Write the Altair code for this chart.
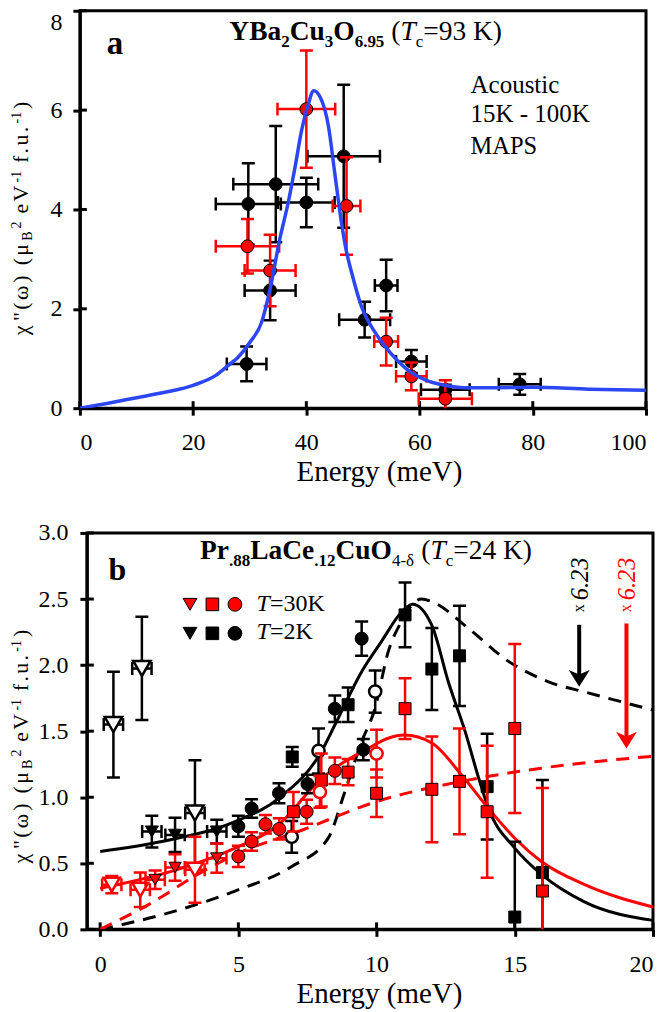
import altair as alt
import pandas as pd

FONT = "Liberation Serif"
RED = "#ff0000"
BLUE = "#2b46f2"

# ---------------- Panel a data ----------------
a_blk_E = [29.45, 29.75, 33.6, 34.6, 40.0, 46.6, 50.3, 54.1, 58.55, 64.55, 77.7]
a_blk_val = [0.89, 4.11, 2.37, 4.51, 4.14, 5.07, 1.78, 2.47, 0.94, 0.37, 0.48]
a_blk_xerr = [3.5, 5.75, 4.5, 7.5, 5.0, 6.4, 4.5, 2.0, 2.7, 4.3, 3.7]
a_blk_yerr = [0.35, 0.82, 0.6, 1.17, 0.5, 1.44, 0.36, 0.52, 0.23, 0.10, 0.21]

a_red_E = [29.6, 33.6, 40.0, 47.1, 54.1, 58.55, 64.55]
a_red_val = [3.26, 2.77, 6.02, 4.07, 1.34, 0.64, 0.19]
a_red_xerr = [5.6, 4.5, 5.1, 2.45, 2.1, 2.7, 4.7]
a_red_yerr = [0.55, 0.72, 1.18, 0.98, 0.48, 0.28, 0.37]

a_fit_E = [0, 5, 10, 15, 20, 24, 26.2, 28, 30, 32.1, 33.6, 35.3, 36.8, 38, 39.2, 40.3,
           41.3, 42.5, 43.9, 45, 46.2, 47, 48, 49.7, 52, 53.8, 56, 58.5, 61, 64.4, 68,
           72, 80, 90, 100]
a_fit_val = [0, 0.10, 0.21, 0.32, 0.46, 0.66, 0.86, 1.03, 1.32, 1.73, 2.4, 3.4, 4.14,
             4.85, 5.61, 6.1, 6.39, 6.25, 5.68, 4.75, 3.74, 3.2, 2.73, 2.06, 1.55, 1.26,
             0.97, 0.72, 0.57, 0.46, 0.41, 0.41, 0.42, 0.38, 0.36]

a_xticks = [0, 20, 40, 60, 80, 100]
a_yticks = [0, 2, 4, 6, 8]

# ---------------- Panel b data ----------------
# T = 2 K (black)
b_k_circ_E = [5.0, 5.48, 6.47, 7.5, 8.49, 9.46, 9.52]
b_k_circ_val = [0.78, 0.915, 1.03, 1.10, 1.67, 2.20, 1.36]
b_k_circ_err = [0.08, 0.07, 0.075, 0.07, 0.10, 0.13, 0.08]

b_k_ocirc_E = [6.93, 7.9, 9.95]
b_k_ocirc_val = [0.70, 1.35, 1.80]
b_k_ocirc_err = [0.12, 0.17, 0.16]

b_k_sq_E = [6.95, 8.97, 11.03, 12.0, 13.0, 14.0, 15.0, 16.0]
b_k_sq_val = [1.305, 1.70, 2.38, 1.97, 2.07, 1.08, 0.093, 0.43]
b_k_sq_err = [0.075, 0.13, 0.245, 0.31, 0.38, 0.40, 0.57, 0.70]

b_k_tri_E = [1.87, 2.71, 4.22]
b_k_tri_val = [0.74, 0.715, 0.74]
b_k_tri_err = [0.12, 0.13, 0.09]

b_k_otri_E = [0.48, 1.51, 3.43]
b_k_otri_val = [1.55, 1.975, 0.88]
b_k_otri_err = [0.40, 0.39, 0.40]

# T = 30 K (red)
b_r_sq_E = [6.99, 8.0, 8.97, 10.0, 11.03, 12.0, 13.0, 14.0, 15.0, 16.0]
b_r_sq_val = [0.89, 1.13, 1.19, 1.03, 1.67, 1.06, 1.12, 0.89, 1.52, 0.29]
b_r_sq_err = [0.15, 0.20, 0.10, 0.18, 0.23, 0.40, 0.40, 0.50, 0.64, 0.78]

b_r_circ_E = [5.0, 5.48, 5.98, 6.48, 7.47, 8.49]
b_r_circ_val = [0.552, 0.665, 0.796, 0.76, 0.89, 1.20]
b_r_circ_err = [0.08, 0.07, 0.07, 0.08, 0.09, 0.10]

b_r_ocirc_E = [7.95, 10.0]
b_r_ocirc_val = [1.04, 1.33]
b_r_ocirc_err = [0.12, 0.18]

b_r_tri_E = [1.99, 2.71, 4.22]
b_r_tri_val = [0.376, 0.468, 0.539]
b_r_tri_err = [0.07, 0.10, 0.11]

b_r_otri_E = [0.42, 1.45, 3.43]
b_r_otri_val = [0.338, 0.30, 0.451]
b_r_otri_err = [0.065, 0.13, 0.25]

tri_xerr = 0.35

# model curves
b_k_fit_E = [0, 2.23, 4.88, 6.45, 8.0, 8.5, 9.46, 10.18, 10.9, 11.3, 12.0, 12.6, 13.2,
             13.7, 14.04, 15.0, 16.0, 17.5, 20]
b_k_fit_val = [0.59, 0.665, 0.816, 0.99, 1.345, 1.55, 1.95, 2.18, 2.40, 2.46, 2.30,
               1.87, 1.50, 1.14, 0.92, 0.615, 0.41, 0.21, 0.068]
b_r_fit_E = [0, 2.96, 4.88, 6.45, 8.0, 8.49, 9.7, 10.42, 11.0, 12.0, 13.07, 14.04, 15.0,
             15.96, 17.53, 20]
b_r_fit_val = [0.31, 0.463, 0.615, 0.79, 1.14, 1.22, 1.37, 1.446, 1.47, 1.41, 1.17,
               0.917, 0.69, 0.514, 0.338, 0.169]
b_k_dash_E = [0, 2.23, 4.88, 6.93, 8.25, 8.85, 9.46, 9.94, 10.42, 10.9, 11.26, 11.62,
              12.0, 13.31, 14.76, 16.2, 17.65, 20]
b_k_dash_val = [0, 0.11, 0.29, 0.476, 0.69, 1.04, 1.42, 1.67, 2.10, 2.33, 2.45, 2.50,
                2.48, 2.28, 2.03, 1.875, 1.79, 1.66]
b_r_dash_E = [0, 1.75, 3.56, 4.88, 7.29, 10.0, 13.07, 15.96, 20]
b_r_dash_val = [0, 0.187, 0.42, 0.565, 0.75, 0.967, 1.12, 1.22, 1.31]

# arrows (x 6.23): E, start, shaft end, tip
arr_E = [17.33, 19.04]
arr_top = [2.305, 2.315]
arr_shaft = [1.90, 1.45]
arr_tip = [1.837, 1.368]
arr_txt_E = [17.66, 19.36]
arr_txt_val = [2.40, 2.40]

b_xticks = [0, 5, 10, 15, 20]
b_yticks = [0, 0.5, 1.0, 1.5, 2.0, 2.5, 3.0]

# ---------------- helpers ----------------
ONE = pd.DataFrame({"k": [0]})

REG = {' ': 250, '"': 408, '(': 333, ')': 333, '-': 333, '.': 250, '=': 564,
       'A': 722, 'B': 667, 'C': 667, 'E': 611, 'K': 722, 'M': 889, 'P': 556,
       'S': 556, 'T': 611, 'V': 722, 'a': 444, 'c': 444, 'e': 444, 'f': 333,
       'i': 278, 'o': 500, 's': 389, 't': 278, 'u': 500, 'x': 500,
       'χ': 549, 'ω': 686, 'μ': 576, 'δ': 494}
BOLD = {' ': 250, '.': 250, '(': 333, ')': 333, '-': 333, 'B': 667, 'C': 722,
        'L': 667, 'O': 778, 'P': 611, 'Y': 722, 'a': 500, 'b': 556, 'e': 444,
        'r': 444, 'u': 556}
ITAL = {'T': 556, 'x': 444, '.': 250, ' ': 250}


def tw(s, size, weight, style):
    table = BOLD if weight == "bold" else (ITAL if style == "italic" else REG)
    return sum(table.get(ch, REG.get(ch, 500)) for ch in s) * size / 1000.0


def rich(runs, enc, angle=0, color="black", data=ONE):
    """runs: (text, size, weight, style, baseline shift, gap before, letter spacing)"""
    out = []
    adv = 0.0
    for run in runs:
        text, size = run[0], run[1]
        weight = run[2] if len(run) > 2 else "normal"
        style = run[3] if len(run) > 3 else "normal"
        shift = run[4] if len(run) > 4 else 0
        gap = run[5] if len(run) > 5 else 0
        sp = run[6] if len(run) > 6 else 0
        adv += gap
        pieces = list(text) if sp else [text]
        for piece in pieces:
            if piece.strip():
                out.append(
                    alt.Chart(data).mark_text(
                        text=piece, font=FONT, fontSize=size, fontWeight=weight,
                        fontStyle=style, align="left", baseline="alphabetic",
                        dx=adv, dy=shift, angle=angle, color=color
                    ).encode(**enc)
                )
            adv += tw(piece, size, weight, style) + sp
    return out


def errpoint(df, color, xs, ys, xa, ya, shape, size, fill, stroke, sw,
             cap=13, lw=2.5, xerr=True):
    base = alt.Chart(df).transform_calculate(
        ylo="datum.val - datum.yerr", yhi="datum.val + datum.yerr",
        xlo="datum.E - datum.xerr", xhi="datum.E + datum.xerr")
    X = alt.X("E:Q", scale=xs, axis=xa)
    Y = alt.Y("val:Q", scale=ys, axis=ya)
    Ylo = alt.Y("ylo:Q", scale=ys, axis=ya)
    Yhi = alt.Y("yhi:Q", scale=ys, axis=ya)
    layers = [
        base.mark_rule(color=color, strokeWidth=lw, clip=True).encode(
            x=X, y=Ylo, y2="yhi:Q"),
        base.mark_rule(color=color, strokeWidth=lw, clip=True,
                       xOffset=-cap / 2, x2Offset=cap / 2).encode(
            x=X, x2="E:Q", y=Ylo),
        base.mark_rule(color=color, strokeWidth=lw, clip=True,
                       xOffset=-cap / 2, x2Offset=cap / 2).encode(
            x=X, x2="E:Q", y=Yhi),
    ]
    if xerr:
        Xlo = alt.X("xlo:Q", scale=xs, axis=xa)
        Xhi = alt.X("xhi:Q", scale=xs, axis=xa)
        layers += [
            base.mark_rule(color=color, strokeWidth=lw, clip=True).encode(
                x=Xlo, x2="xhi:Q", y=Y),
            base.mark_rule(color=color, strokeWidth=lw, clip=True,
                           yOffset=-cap / 2, y2Offset=cap / 2).encode(
                x=Xlo, y=Y, y2="val:Q"),
            base.mark_rule(color=color, strokeWidth=lw, clip=True,
                           yOffset=-cap / 2, y2Offset=cap / 2).encode(
                x=Xhi, y=Y, y2="val:Q"),
        ]
    layers.append(
        base.mark_point(shape=shape, size=size, filled=True, fill=fill,
                        fillOpacity=1, opacity=1, stroke=stroke,
                        strokeWidth=sw).encode(x=X, y=Y))
    return layers


def line(E, v, xs, ys, xa, ya, color, width, dash=None):
    df = pd.DataFrame({"E": E, "val": v})
    kw = dict(color=color, strokeWidth=width, interpolate="monotone", clip=True)
    if dash:
        kw["strokeDash"] = dash
    return alt.Chart(df).mark_line(**kw).encode(
        x=alt.X("E:Q", scale=xs, axis=xa), y=alt.Y("val:Q", scale=ys, axis=ya))


def inner_ticks(xt, yt, xs, ys, xa, ya, h):
    return [
        alt.Chart(pd.DataFrame({"t": xt})).mark_rule(color="black", strokeWidth=3).encode(
            x=alt.X("t:Q", scale=xs, axis=xa), y=alt.value(h), y2=alt.value(h - 7)),
        alt.Chart(pd.DataFrame({"t": yt})).mark_rule(color="black", strokeWidth=3).encode(
            y=alt.Y("t:Q", scale=ys, axis=ya), x=alt.value(0), x2=alt.value(7)),
    ]


def bounds_marker(x, y):
    # invisible anchor that fixes the chart's top-left extent
    return alt.Chart(ONE).mark_rule(opacity=0, strokeOpacity=0).encode(
        x=alt.value(x), x2=alt.value(x + 1), y=alt.value(y), y2=alt.value(y + 1))


YS, YSS, SP = 22, 14, 2.3
YTITLE = [('χ"(ω)', YS, "normal", "normal", 0, 0, SP),
          ('(μ', YS, "normal", "normal", 0, 5.5 + SP, SP),
          ('B', YSS, "normal", "normal", 4, 0),
          ('2', YSS, "normal", "normal", -7, 3),
          ('eV', YS, "normal", "normal", 0, 5.5 + SP, SP),
          ('-1', YSS, "normal", "normal", -7, 1),
          ('f.u.', YS, "normal", "normal", 0, 5.5 + SP, SP),
          ('-1', YSS, "normal", "normal", -7, 1),
          (')', YS, "normal", "normal", 0, 3)]

# ---------------- Panel a ----------------
WA, HA = 567, 398
xs_a = alt.Scale(domain=[0, 100], nice=False, zero=False)
ys_a = alt.Scale(domain=[0, 8], nice=False, zero=False)
xa_a = alt.Axis(values=a_xticks, format="d", title="Energy (meV)", titleX=299.5,
                titleY=72, titleBaseline="alphabetic", titleAlign="center",
                labelPadding=15)
ya_a = alt.Axis(values=a_yticks, format="d", title=None, labelPadding=11,
                labelBaseline={"condition": {"test": "datum.value == 8", "value": "top"},
                               "value": "middle"})

a_blk = pd.DataFrame({"E": a_blk_E, "val": a_blk_val, "xerr": a_blk_xerr, "yerr": a_blk_yerr})
a_red = pd.DataFrame({"E": a_red_E, "val": a_red_val, "xerr": a_red_xerr, "yerr": a_red_yerr})

a_layers = [bounds_marker(-110, -30)]
a_layers += inner_ticks(a_xticks, a_yticks, xs_a, ys_a, xa_a, ya_a, HA)
a_layers += errpoint(a_blk, "black", xs_a, ys_a, xa_a, ya_a, "circle", 165,
                     "black", "black", 1)
a_layers += errpoint(a_red, RED, xs_a, ys_a, xa_a, ya_a, "circle", 165,
                     RED, "black", 1)
a_layers.append(line(a_fit_E, a_fit_val, xs_a, ys_a, xa_a, ya_a, BLUE, 3.5))
a_layers += rich([("a", 33, "bold")], dict(x=alt.value(27), y=alt.value(43.7)))
a_layers += rich([("YBa", 27.5, "bold"), ("2", 17, "bold", "normal", 7), ("Cu", 27.5, "bold"),
                  ("3", 17, "bold", "normal", 7), ("O", 27.5, "bold"),
                  ("6.95", 17, "bold", "normal", 7), ("(", 27.5, "normal", "normal", 0, 6.9),
                  ("T", 27.5, "normal", "italic"),
                  ("c", 17, "normal", "normal", 7), ("=93 K)", 27.5)],
                 dict(x=alt.value(149.7), y=alt.value(29.3)))
a_layers += rich([("Acoustic", 25)], dict(x=alt.value(391.3), y=alt.value(82.7)))
a_layers += rich([("15K - 100K", 25)], dict(x=alt.value(391.3), y=alt.value(111)))
a_layers += rich([("MAPS", 24.5)], dict(x=alt.value(391.3), y=alt.value(143.7)))
a_layers += rich(YTITLE, dict(x=alt.value(-52), y=alt.value(325)), angle=270)

panel_a = alt.layer(*a_layers).properties(width=WA, height=HA)

# ---------------- Panel b ----------------
WB, HB = 567, 397
xs_b = alt.Scale(domain=[-0.48, 20], nice=False, zero=False)
ys_b = alt.Scale(domain=[0, 3], nice=False, zero=False)
xa_b = alt.Axis(values=b_xticks, format="d", title="Energy (meV)", titleX=292.5,
                titleY=73, titleBaseline="alphabetic", titleAlign="center",
                labelPadding=16)
ya_b = alt.Axis(values=b_yticks, format=".1f", title=None, labelPadding=12)


def sdf(E, v, err, xerr=0.0):
    return pd.DataFrame({"E": E, "val": v, "yerr": err, "xerr": [xerr] * len(E)})


b_layers = []
b_layers += inner_ticks(b_xticks, b_yticks, xs_b, ys_b, xa_b, ya_b, HB)
b_layers.append(line(b_k_dash_E, b_k_dash_val, xs_b, ys_b, xa_b, ya_b, "black", 3, [13, 9]))
b_layers.append(line(b_r_dash_E, b_r_dash_val, xs_b, ys_b, xa_b, ya_b, RED, 3, [13, 9]))
b_layers.append(line(b_k_fit_E, b_k_fit_val, xs_b, ys_b, xa_b, ya_b, "black", 3))
b_layers.append(line(b_r_fit_E, b_r_fit_val, xs_b, ys_b, xa_b, ya_b, RED, 3))

# black (T=2K)
b_layers += errpoint(sdf(b_k_otri_E, b_k_otri_val, b_k_otri_err, tri_xerr), "black", xs_b, ys_b,
                     xa_b, ya_b, "triangle-down", 300, "white", "black", 2.5)
b_layers += errpoint(sdf(b_k_tri_E, b_k_tri_val, b_k_tri_err, tri_xerr), "black", xs_b, ys_b,
                     xa_b, ya_b, "triangle-down", 170, "black", "black", 1)
b_layers += errpoint(sdf(b_k_sq_E, b_k_sq_val, b_k_sq_err), "black", xs_b, ys_b,
                     xa_b, ya_b, "square", 144, "black", "black", 1, xerr=False)
b_layers += errpoint(sdf(b_k_circ_E, b_k_circ_val, b_k_circ_err), "black", xs_b, ys_b,
                     xa_b, ya_b, "circle", 170, "black", "black", 1, xerr=False)
b_layers += errpoint(sdf(b_k_ocirc_E, b_k_ocirc_val, b_k_ocirc_err), "black", xs_b, ys_b,
                     xa_b, ya_b, "circle", 150, "white", "black", 2.5, xerr=False)
# red (T=30K)
b_layers += errpoint(sdf(b_r_otri_E, b_r_otri_val, b_r_otri_err, tri_xerr), RED, xs_b, ys_b,
                     xa_b, ya_b, "triangle-down", 260, "white", RED, 2.5)
b_layers += errpoint(sdf(b_r_tri_E, b_r_tri_val, b_r_tri_err, tri_xerr), RED, xs_b, ys_b,
                     xa_b, ya_b, "triangle-down", 150, RED, "black", 1)
b_layers += errpoint(sdf(b_r_sq_E, b_r_sq_val, b_r_sq_err), RED, xs_b, ys_b,
                     xa_b, ya_b, "square", 144, RED, "black", 1, xerr=False)
b_layers += errpoint(sdf(b_r_circ_E, b_r_circ_val, b_r_circ_err), RED, xs_b, ys_b,
                     xa_b, ya_b, "circle", 170, RED, "black", 1, xerr=False)
b_layers += errpoint(sdf(b_r_ocirc_E, b_r_ocirc_val, b_r_ocirc_err), RED, xs_b, ys_b,
                     xa_b, ya_b, "circle", 150, "white", RED, 2.5, xerr=False)

# arrows
arr = pd.DataFrame({"E": arr_E, "top": arr_top, "shaft": arr_shaft, "tip": arr_tip,
                    "c": ["k", "r"]})
ccol = alt.Color("c:N", scale=alt.Scale(domain=["k", "r"], range=["black", RED]), legend=None)
b_layers.append(alt.Chart(arr).mark_rule(strokeWidth=4).encode(
    x=alt.X("E:Q", scale=xs_b, axis=xa_b), y=alt.Y("top:Q", scale=ys_b, axis=ya_b),
    y2="shaft:Q", color=ccol))
b_layers.append(alt.Chart(arr).mark_point(
    shape="M0,0 L-1,-1.6 L0,-1.15 L1,-1.6 Z", size=440, filled=True, opacity=1).encode(
    x=alt.X("E:Q", scale=xs_b, axis=xa_b), y=alt.Y("tip:Q", scale=ys_b, axis=ya_b),
    color=ccol, fill=ccol))
for i, col in enumerate(["black", RED]):
    tdf = pd.DataFrame({"E": [arr_txt_E[i]], "val": [arr_txt_val[i]]})
    b_layers += rich([("x", 16, "normal", "normal", -4), ("6.23", 24.5, "normal", "italic", 0, 4)],
                     dict(x=alt.X("E:Q", scale=xs_b, axis=xa_b),
                          y=alt.Y("val:Q", scale=ys_b, axis=ya_b)),
                     angle=270, color=col, data=tdf)

# legend
leg = [(103.3, 71.5, "triangle-down", 190, RED), (125.7, 71.5, "square", 160, RED),
       (148.3, 71.5, "circle", 190, RED), (103.3, 100.5, "triangle-down", 190, "black"),
       (125.7, 100.5, "square", 160, "black"), (148.3, 100.5, "circle", 190, "black")]
for (px, py, shp, sz, col) in leg:
    b_layers.append(alt.Chart(ONE).mark_point(
        shape=shp, size=sz, filled=True, fill=col, stroke="black", strokeWidth=1,
        opacity=1).encode(x=alt.value(px), y=alt.value(py)))
b_layers += rich([("T", 24, "normal", "italic"), ("=30K", 24)],
                 dict(x=alt.value(170), y=alt.value(78.3)))
b_layers += rich([("T", 24, "normal", "italic"), ("=2K", 24)],
                 dict(x=alt.value(170), y=alt.value(105.7)))

b_layers += rich([("b", 32, "bold")], dict(x=alt.value(21.7), y=alt.value(47.3)))
b_layers += rich([("Pr", 27.5, "bold"), (".88", 17, "bold", "normal", 7), ("LaCe", 27.5, "bold"),
                  (".12", 17, "bold", "normal", 7), ("CuO", 27.5, "bold"),
                  ("4-δ", 17, "normal", "normal", 7), ("(", 27.5, "normal", "normal", 0, 6.9),
                  ("T", 27.5, "normal", "italic"),
                  ("c", 17, "normal", "normal", 7), ("=24 K)", 27.5)],
                 dict(x=alt.value(113.3), y=alt.value(26)))
b_layers += rich(YTITLE, dict(x=alt.value(-59), y=alt.value(331)), angle=270)

panel_b = alt.layer(*b_layers).properties(width=WB, height=HB)

spacer = alt.Chart(ONE).mark_point(opacity=0).encode(
    x=alt.value(0), y=alt.value(0)).properties(
    width=7, height=HB, view=alt.ViewBackground(strokeOpacity=0))

row_b = alt.hconcat(spacer, panel_b, spacing=0, bounds="flush")

chart = alt.vconcat(panel_a, row_b, spacing=125, bounds="flush").properties(
    padding={"left": -40, "top": -30, "right": 0, "bottom": 0}
).configure_axis(
    labelFont=FONT, labelFontSize=24, labelColor="black",
    titleFont=FONT, titleFontSize=29, titleFontWeight="normal", titleColor="black",
    domainColor="black", domainWidth=3, tickColor="black", tickWidth=3, tickSize=7,
    grid=False
).configure_view(stroke="black", strokeWidth=3)

chart.save("out.html", embed_options={"renderer": "svg", "actions": False})
